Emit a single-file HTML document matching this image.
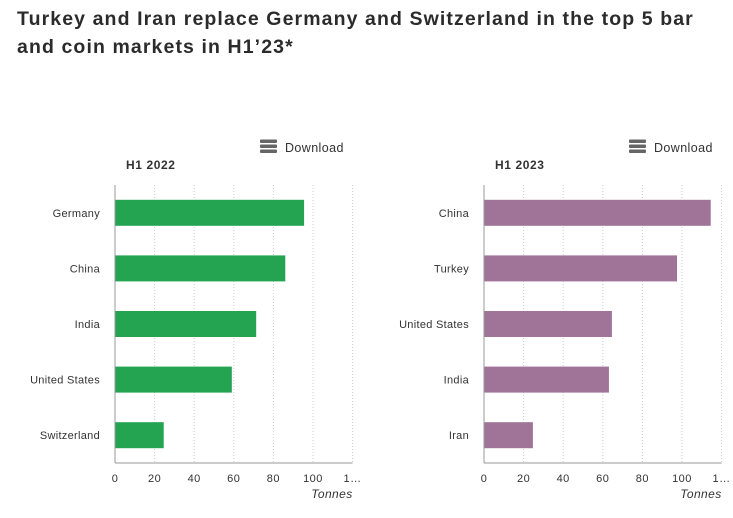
<!DOCTYPE html>
<html><head><meta charset="utf-8"><style>
body{margin:0;background:#fff;width:733px;height:518px;overflow:hidden;font-family:"Liberation Sans",sans-serif}
h1{position:absolute;left:17px;top:5px;margin:0;font-size:19.5px;line-height:28px;font-weight:bold;color:#2b2b2b;width:705px;letter-spacing:1.1px}
svg{position:absolute;left:0;top:0}
</style></head><body>
<h1>Turkey and Iran replace Germany and Switzerland in the top 5 bar and coin markets in H1’23*</h1>
<svg id="s" width="733" height="518"></svg>
<script>
const cats2022=["Germany","China","India","United States","Switzerland"];
const vals2022=[95.5,86,71.3,59,24.6];
const cats2023=["China","Turkey","United States","India","Iran"];
const vals2023=[114.5,97.5,64.6,63.1,24.7];
const ticks=[0,20,40,60,80,100,120];
const tickLabels=["0","20","40","60","80","100","1…"];
const NS="http://www.w3.org/2000/svg";
const svg=document.getElementById('s');
function mk(t,a,p){const e=document.createElementNS(NS,t);for(const k in a)e.setAttribute(k,a[k]);(p||svg).appendChild(e);return e;}
function chart(x0,title,cats,vals,color,name){
  const g=mk('g',{});
  
  
  const top=185,bot=463,k=1.98;
  const X=v=>x0+v*k;
  const band=(bot-top)/cats.length;
  ticks.forEach((t,i)=>{
    if(i>0){const l=mk('line',{x1:X(t),x2:X(t),y1:top,y2:bot,stroke:'#ccc','stroke-dasharray':'1,2'},g);
    }
    const tx=mk('text',{x:X(t),y:482,'font-size':11,fill:'#333','text-anchor':'middle','letter-spacing':'0.5'},g);
    tx.textContent=tickLabels[i];
    
  });
  cats.forEach((c,i)=>{
    const yc=top+band*(i+0.5);
    const r=mk('rect',{x:x0,y:yc-13,width:vals[i]*k,height:26,fill:color},g);
    
    const t=mk('text',{x:x0-15,y:yc+4,'font-size':11,fill:'#333','text-anchor':'end','letter-spacing':'0.3'},g);
    t.textContent=c;
    
  });
  const ax=mk('line',{x1:x0,x2:x0,y1:top,y2:bot,stroke:'#999'},g);
  
  const bx=mk('line',{x1:x0,x2:X(120),y1:bot,y2:bot,stroke:'#999'},g);
  
  const tt=mk('text',{x:x0+11,y:169,'font-size':12,'font-weight':'bold',fill:'#333','letter-spacing':'0.6'},g);
  tt.textContent=title;
  
  const un=mk('text',{x:X(120),y:498,'font-size':12,'font-style':'italic',fill:'#333','text-anchor':'end','letter-spacing':'0.4'},g);
  un.textContent='Tonnes';
  
  const d=mk('g',{},g);
  
  [0,5,10].forEach(o=>mk('rect',{x:x0+145,y:139.5+o,width:17,height:3.5,rx:1,fill:'#666'},d));
  const dt=mk('text',{x:x0+170,y:152,'font-size':12.5,fill:'#333','letter-spacing':'0.4'},d);dt.textContent='Download';
}
chart(115,'H1 2022',cats2022,vals2022,'#24a350','chart-h1-2022');
chart(484,'H1 2023',cats2023,vals2023,'#a07399','chart-h1-2023');
</script>
</body></html>
